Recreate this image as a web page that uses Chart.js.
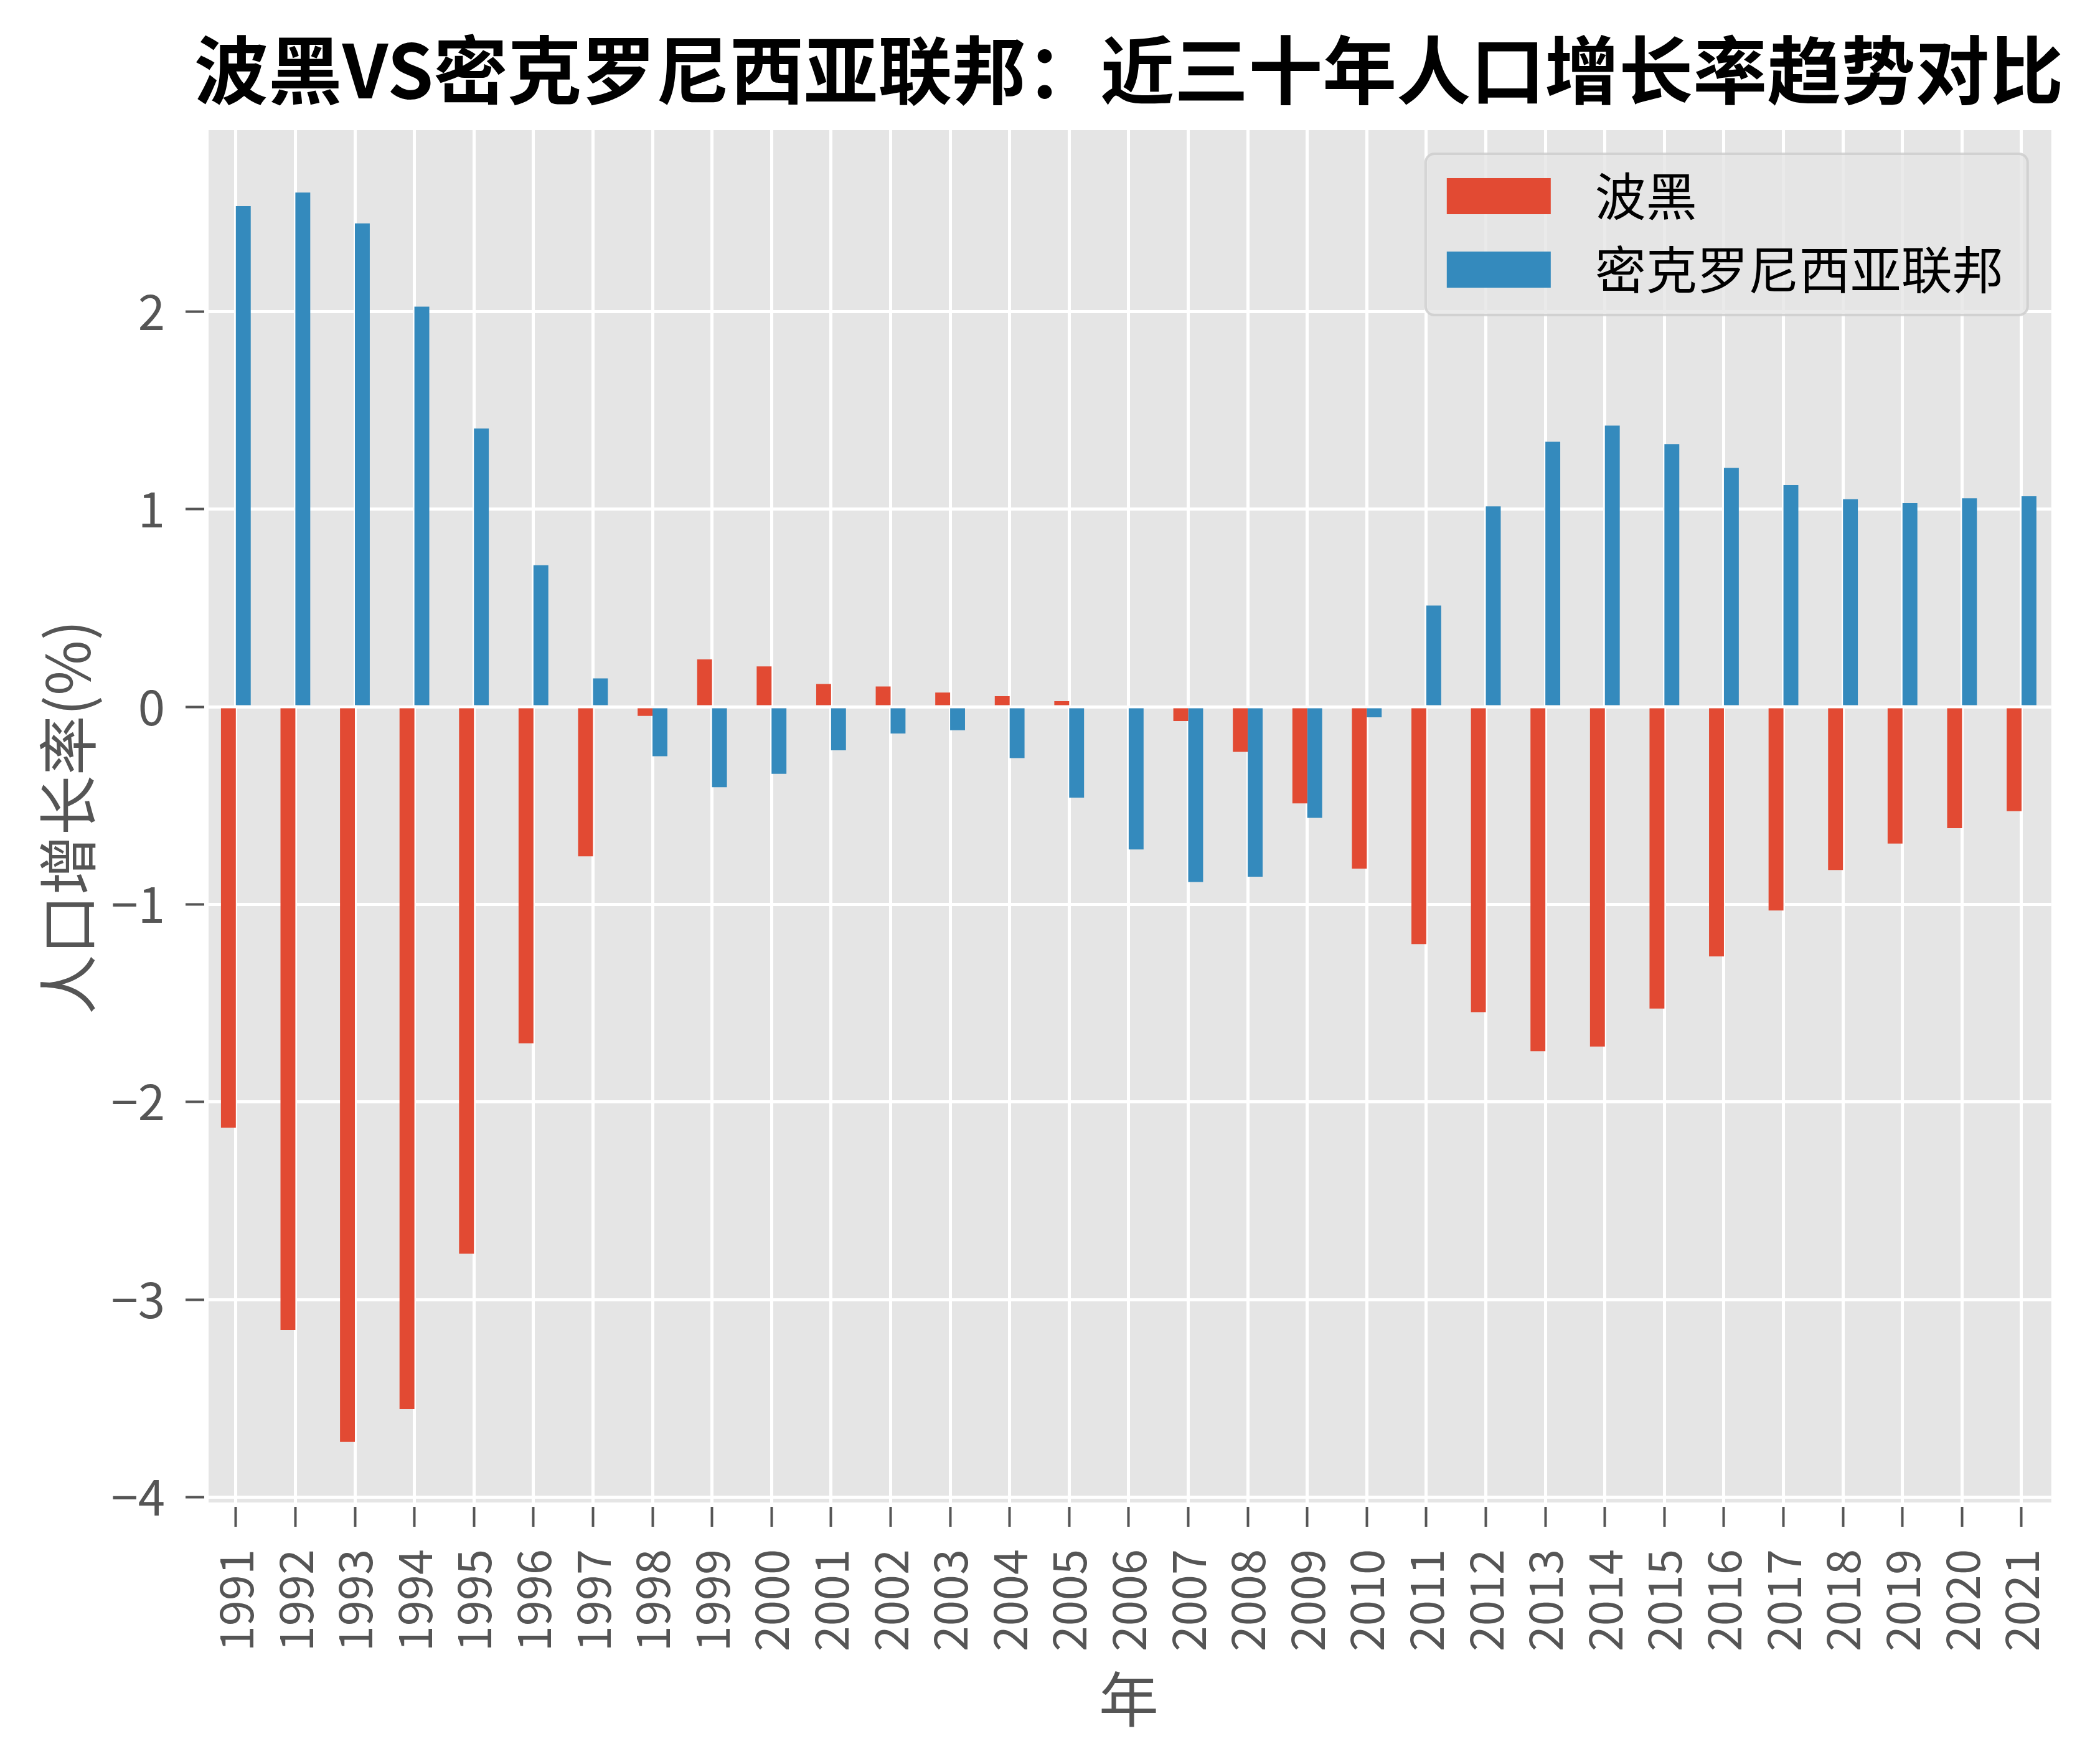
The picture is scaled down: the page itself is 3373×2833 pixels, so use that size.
<!DOCTYPE html>
<html>
<head>
<meta charset="utf-8">
<title>波黑VS密克罗尼西亚联邦：近三十年人口增长率趋势对比</title>
<script src="https://cdn.jsdelivr.net/npm/chart.js@4.4.1/dist/chart.umd.min.js"></script>
<style>
    html, body { margin: 0; padding: 0; background: #ffffff; }
    canvas { display: block; }
</style>
</head>
<body>
<canvas id="growthChart" width="3373" height="2833"></canvas>
<script>
const years = [
    "1991", "1992", "1993", "1994", "1995", "1996", "1997", "1998", "1999", "2000",
    "2001", "2002", "2003", "2004", "2005", "2006", "2007", "2008", "2009", "2010",
    "2011", "2012", "2013", "2014", "2015", "2016", "2017", "2018", "2019", "2020", "2021"
];
const bosniaGrowth = [
    -2.130, -3.154, -3.720, -3.554, -2.768, -1.703, -0.757, -0.046, 0.240, 0.204,
    0.115, 0.103, 0.072, 0.054, 0.029, 0.000, -0.072, -0.228, -0.489, -0.819,
    -1.201, -1.545, -1.743, -1.719, -1.527, -1.263, -1.031, -0.826, -0.692, -0.614, -0.528
];
const micronesiaGrowth = [
    2.534, 2.602, 2.446, 2.025, 1.408, 0.716, 0.144, -0.250, -0.407, -0.339,
    -0.220, -0.135, -0.119, -0.260, -0.460, -0.722, -0.887, -0.860, -0.562, -0.053,
    0.512, 1.014, 1.341, 1.423, 1.329, 1.209, 1.122, 1.050, 1.031, 1.055, 1.065
];
const seriesNames = ["波黑", "密克罗尼西亚联邦"];
const seriesColors = ["#e24a33", "#348abd"];
const yTickValues = [-4, -3, -2, -1, 0, 1, 2];

const chartTitle = "波黑VS密克罗尼西亚联邦：近三十年人口增长率趋势对比";
const xAxisTitle = "年";
const yAxisTitle = "人口增长率(%)";

const fontFamily = '"Noto Sans CJK SC", "Noto Sans", sans-serif';
const axisTextColor = "#555555";

// same 5% margin matplotlib puts round the data
const allValues = bosniaGrowth.concat(micronesiaGrowth);
const dataMin = Math.min(...allValues);
const dataMax = Math.max(...allValues);
const yMargin = (dataMax - dataMin) * 0.05;

const panelBackground = {
    id: "panelBackground",
    beforeDraw(chart) {
        const { ctx, chartArea } = chart;
        ctx.save();
        ctx.fillStyle = "#ffffff";
        ctx.fillRect(0, 0, chart.width, chart.height);
        ctx.fillStyle = "#e5e5e5";
        ctx.fillRect(chartArea.left, chartArea.top, chartArea.width, chartArea.height);
        ctx.restore();
    }
};

const centeredTitle = {
    id: "centeredTitle",
    afterDraw(chart) {
        const { ctx, chartArea } = chart;
        ctx.save();
        ctx.font = "bold 119px " + fontFamily;
        ctx.fillStyle = "#000000";
        ctx.textAlign = "center";
        ctx.textBaseline = "middle";
        ctx.fillText(chartTitle, (chartArea.left + chartArea.right) / 2, chartArea.top - 96);
        ctx.restore();
    }
};

const boxLegend = {
    id: "boxLegend",
    afterDatasetsDraw(chart) {
        const { ctx, chartArea } = chart;
        const boxWidth = 967;
        const boxHeight = 259;
        const left = chartArea.right - 38 - boxWidth;
        const top = chartArea.top + 38;

        ctx.save();
        ctx.beginPath();
        ctx.roundRect(left, top, boxWidth, boxHeight, 14);
        ctx.fillStyle = "rgba(229, 229, 229, 0.8)";
        ctx.fill();
        ctx.lineWidth = 4;
        ctx.strokeStyle = "rgba(204, 204, 204, 0.8)";
        ctx.stroke();

        ctx.font = "82px " + fontFamily;
        ctx.textAlign = "left";
        ctx.textBaseline = "middle";
        chart.data.datasets.forEach((dataset, i) => {
            const rowY = top + 68 + i * 118;
            ctx.fillStyle = dataset.backgroundColor;
            ctx.fillRect(left + 34, rowY - 29, 167, 58);
            ctx.fillStyle = "#000000";
            ctx.fillText(dataset.label, left + 272, rowY);
        });
        ctx.restore();
    }
};

function axisGrid(tickLength) {
    return {
        color: "#ffffff",
        lineWidth: 5,
        drawTicks: true,
        tickLength: tickLength,
        tickColor: axisTextColor,
        tickWidth: 4
    };
}

const whiteBorder = { display: true, color: "#ffffff", width: 7 };

new Chart(document.getElementById("growthChart"), {
    type: "bar",
    data: {
        labels: years,
        datasets: [
            { label: seriesNames[0], data: bosniaGrowth, backgroundColor: seriesColors[0] },
            { label: seriesNames[1], data: micronesiaGrowth, backgroundColor: seriesColors[1] }
        ]
    },
    options: {
        responsive: false,
        animation: false,
        devicePixelRatio: 1,
        layout: { padding: { top: 209, right: 75, bottom: 0, left: 0 } },
        datasets: {
            bar: { categoryPercentage: 0.5, barPercentage: 1.0, borderWidth: 0 }
        },
        plugins: {
            legend: { display: false },
            title: { display: false },
            tooltip: { enabled: false }
        },
        scales: {
            x: {
                type: "category",
                offset: true,
                grid: Object.assign(axisGrid(36), { offset: false }),
                border: whiteBorder,
                ticks: {
                    autoSkip: false,
                    minRotation: 90,
                    maxRotation: 90,
                    padding: 36,
                    color: axisTextColor,
                    font: { family: fontFamily, size: 74 }
                },
                title: {
                    display: true,
                    text: xAxisTitle,
                    color: axisTextColor,
                    font: { family: fontFamily, size: 96 },
                    padding: { top: 0, bottom: 47 }
                },
                afterFit(scale) {
                    scale.height = 417;
                }
            },
            y: {
                min: dataMin - yMargin,
                max: dataMax + yMargin,
                afterBuildTicks(scale) {
                    scale.ticks = yTickValues.map(v => ({ value: v }));
                },
                grid: axisGrid(33),
                border: whiteBorder,
                ticks: {
                    padding: 33,
                    color: axisTextColor,
                    font: { family: fontFamily, size: 78 },
                    callback: value => value < 0 ? "\u2212" + Math.abs(value) : String(value)
                },
                title: {
                    display: true,
                    text: yAxisTitle,
                    color: axisTextColor,
                    font: { family: fontFamily, size: 96 },
                    padding: { top: 51, bottom: 0 }
                },
                afterFit(scale) {
                    scale.width = 331;
                }
            }
        }
    },
    plugins: [panelBackground, centeredTitle, boxLegend]
});
</script>
</body>
</html>
